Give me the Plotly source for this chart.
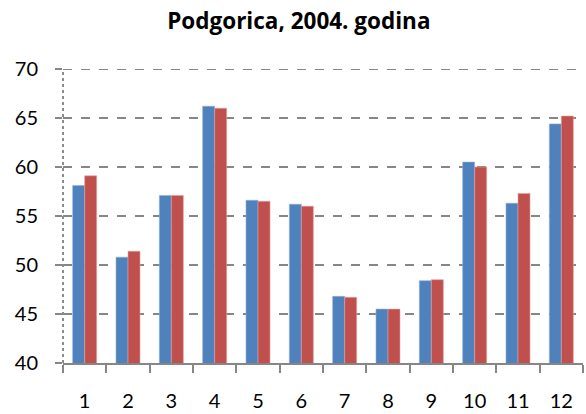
import plotly.graph_objects as go

months = ["1", "2", "3", "4", "5", "6", "7", "8", "9", "10", "11", "12"]
series_a = [58.1, 50.8, 57.1, 66.2, 56.6, 56.2, 46.8, 45.5, 48.4, 60.5, 56.3, 64.4]
series_b = [59.1, 51.4, 57.1, 66.0, 56.5, 56.0, 46.7, 45.5, 48.5, 60.0, 57.3, 65.2]
y_ticks = [40, 45, 50, 55, 60, 65, 70]
title_text = "Podgorica, 2004. godina"

FONT = "Lato"
GRID = "#868686"

fig = go.Figure()
fig.add_trace(go.Bar(x=months, y=series_a, marker=dict(color="#4F81BD", line=dict(color="#8FB0DA", width=0.6))))
fig.add_trace(go.Bar(x=months, y=series_b, marker=dict(color="#C0504D", line=dict(color="#E3A09E", width=0.6))))

fig.update_layout(
    width=586, height=414,
    margin=dict(l=63, r=3, t=69, b=51, autoexpand=False),
    paper_bgcolor="white", plot_bgcolor="white",
    showlegend=False,
    barmode="group", bargap=0.446, bargroupgap=0,
    title=dict(text="<b>" + title_text + "</b>", x=0.51, xref="container", xanchor="center",
               y=0.948, yref="container", yanchor="middle",
               font=dict(family="Open Sans", size=22.5, color="black")),
    font=dict(family=FONT, size=20, color="black"),
)
fig.update_xaxes(
    type="category", tickson="boundaries", ticks="outside", ticklen=8, tickwidth=2,
    tickcolor=GRID, showline=True, linecolor=GRID, linewidth=2, showgrid=False,
    tickfont=dict(family=FONT, size=20, color="black"), ticklabelstandoff=19,
    automargin=False,
)
fig.update_yaxes(
    range=[40, 70], tickvals=y_ticks, ticks="outside", ticklen=7, tickwidth=2,
    tickcolor=GRID, showgrid=True, gridcolor=GRID, gridwidth=2, griddash="dash",
    zeroline=False, showline=False, automargin=False,
    tickfont=dict(family=FONT, size=20, color="black"), ticklabelstandoff=13,
)
fig.add_shape(type="line", xref="paper", yref="y", x0=0, x1=1, y0=70, y1=70,
              line=dict(color=GRID, width=2, dash="dash"), layer="below")
fig.add_shape(type="line", xref="paper", yref="y", x0=0, x1=0, y0=40, y1=70,
              line=dict(color="#8c8c8c", width=2, dash="dot"), layer="above")

fig.write_html("out.html", config={"displayModeBar": False},
               post_script="document.body.style.margin='0';")
